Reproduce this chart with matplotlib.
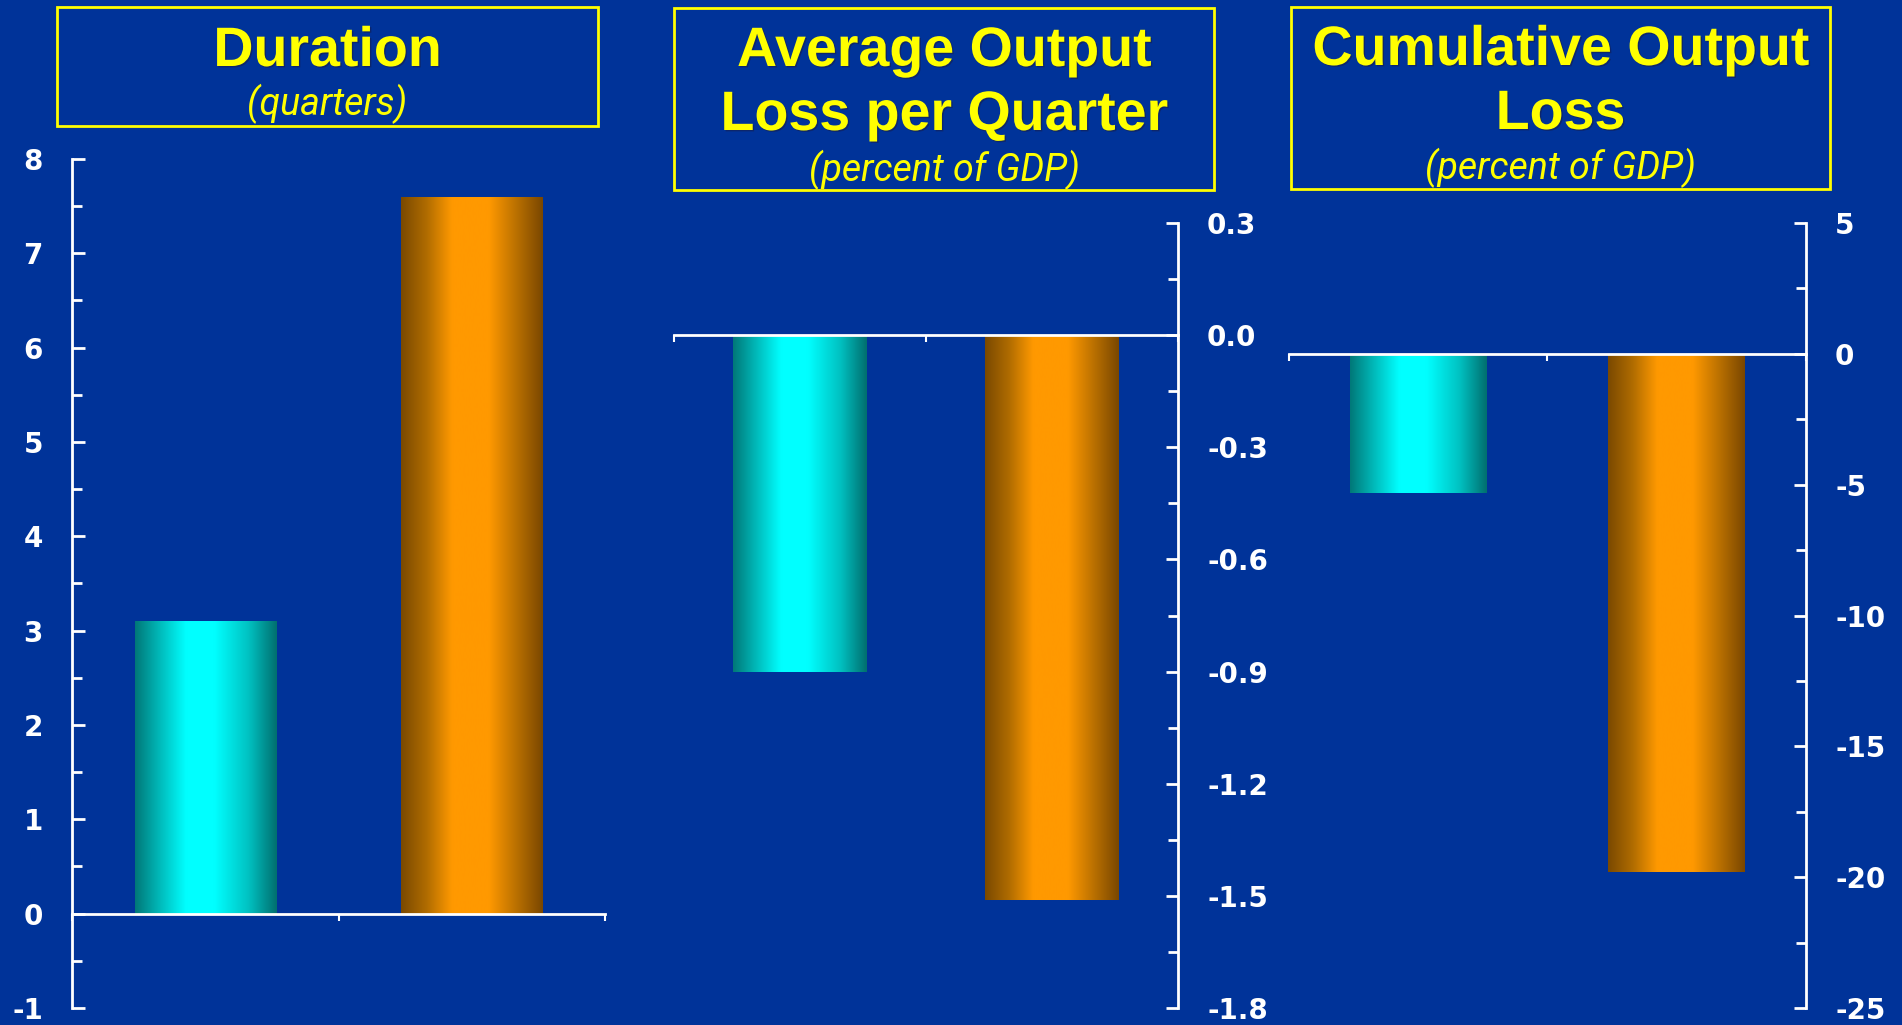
import numpy as np
import matplotlib
matplotlib.use("Agg")
import matplotlib.pyplot as plt
import matplotlib.patheffects as pe
from matplotlib.patches import Rectangle
from matplotlib.colors import LinearSegmentedColormap
from matplotlib.ticker import MultipleLocator, FormatStrFormatter

# two groups shown in every panel: cyan bar first, orange bar second
positions = [1, 2]
duration = [3.1, 7.6]            # quarters
avg_loss = [-0.90, -1.51]        # percent of GDP per quarter
cum_loss = [-5.3, -19.8]         # percent of GDP

BG = "#003399"
YELLOW = "#ffff00"
WHITE = "white"

cyan_stops = [(0.0, "#007878"), (0.18, "#00bcbc"), (0.36, "#00ffff"),
              (0.56, "#00ffff"), (0.8, "#00c2c2"), (1.0, "#006f6f")]
orange_stops = [(0.0, "#7a4900"), (0.18, "#b06c00"), (0.36, "#ff9900"),
                (0.62, "#ff9900"), (0.82, "#b86f00"), (1.0, "#7a4700")]
cyan_map = LinearSegmentedColormap.from_list("cyan_bar", cyan_stops)
orange_map = LinearSegmentedColormap.from_list("orange_bar", orange_stops)

fig = plt.figure(figsize=(19.02, 10.25), dpi=100, facecolor=BG)


def shade_bars(ax, bars):
    grad = np.linspace(0, 1, 256).reshape(1, -1)
    for rect, cmap in zip(bars, [cyan_map, orange_map]):
        x0, y0 = rect.get_x(), rect.get_y()
        w, h = rect.get_width(), rect.get_height()
        im = ax.imshow(grad, cmap=cmap, aspect="auto", interpolation="bicubic",
                       extent=[x0, x0 + w, min(y0, y0 + h), max(y0, y0 + h)],
                       zorder=2)
        im.set_clip_path(rect)


def panel(rect, values, ylim, major, minor, fmt, side):
    ax = fig.add_axes(rect)
    ax.set_facecolor("none")
    bars = ax.bar(positions, values, width=0.53, facecolor="none",
                  edgecolor="none", zorder=2)
    shade_bars(ax, bars)
    ax.set_xlim(0.5, 2.5)
    ax.set_ylim(*ylim)

    for s in ["top", "left", "right"]:
        ax.spines[s].set_visible(False)
    ax.spines[side].set_visible(True)
    ax.spines[side].set_color(WHITE)
    ax.spines[side].set_linewidth(2)
    ax.spines["bottom"].set_position(("data", 0))
    ax.spines["bottom"].set_color(WHITE)
    ax.spines["bottom"].set_linewidth(2)

    ax.set_xticks([0.5, 1.5, 2.5])
    ax.tick_params(axis="x", direction="out", length=5, width=1.5,
                   color=WHITE, labelbottom=False)

    if side == "right":
        ax.yaxis.tick_right()
    ax.yaxis.set_major_locator(MultipleLocator(major))
    ax.yaxis.set_minor_locator(MultipleLocator(minor))
    ax.yaxis.set_major_formatter(FormatStrFormatter(fmt))
    ax.tick_params(axis="y", which="major", direction="in", length=9,
                   width=2, color=WHITE, labelcolor=WHITE, labelsize=20,
                   pad=21)
    ax.tick_params(axis="y", which="minor", direction="in", length=7,
                   width=2, color=WHITE)
    for lbl in ax.get_yticklabels():
        lbl.set_fontweight("bold")
        lbl.set_family("DejaVu Sans")
        if side == "left":
            lbl.set_horizontalalignment("right")
    return ax


panel([0.0379, 0.0166, 0.2802, 0.8283], duration, (-1, 8), 1, 0.5, "%d", "left")
panel([0.3544, 0.0166, 0.2649, 0.7658], avg_loss, (-1.8, 0.3), 0.3, 0.15, "%.1f", "right")
panel([0.6777, 0.0166, 0.2718, 0.7658], cum_loss, (-25, 5), 5, 2.5, "%d", "right")

# heading boxes, in pixel coordinates of the 1902x1025 canvas
W, H = 1902.0, 1025.0
headings = [
    ((57, 7, 598, 126), ["Duration"], "(quarters)", [52], 104),
    ((674, 8, 1214, 190), ["Average Output", "Loss per Quarter"],
     "(percent of GDP)", [52, 116], 170),
    ((1291, 7, 1830, 189), ["Cumulative Output", "Loss"],
     "(percent of GDP)", [51, 115], 168),
]
title_fx = [pe.withSimplePatchShadow(offset=(1, -1), shadow_rgbFace="#1a1a40",
                                     alpha=0.5)]
for (x0, y0, x1, y1), lines, sub, ys, ysub in headings:
    fig.patches.append(Rectangle((x0 / W, 1 - y1 / H), (x1 - x0) / W,
                                 (y1 - y0) / H, transform=fig.transFigure,
                                 facecolor="none", edgecolor=YELLOW,
                                 linewidth=2))
    cx = (x0 + x1) / 2 / W
    for line, yy in zip(lines, ys):
        fig.text(cx, 1 - yy / H, line, ha="center", va="center",
                 color=YELLOW, fontsize=40, fontweight="bold",
                 family="Liberation Sans", path_effects=title_fx)
    fig.text(cx, 1 - ysub / H, sub, ha="center", va="center", color=YELLOW,
             fontsize=27, style="italic", family="Roboto")

fig.savefig("out.png", dpi=100, facecolor=BG)
